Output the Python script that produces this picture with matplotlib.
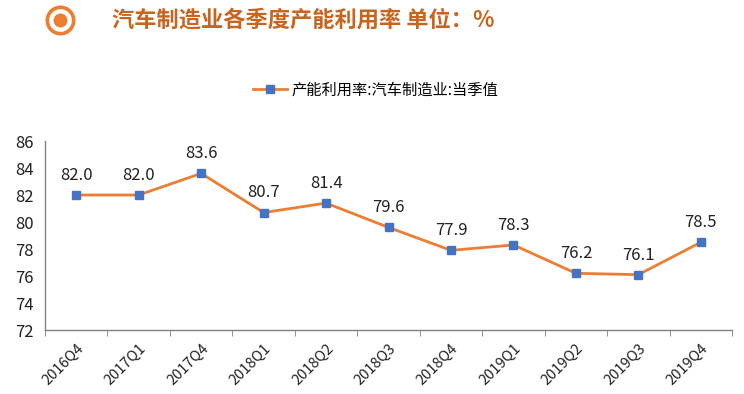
import matplotlib
matplotlib.use("Agg")
import matplotlib.pyplot as plt
from matplotlib.lines import Line2D

plt.rcParams['font.family'] = ['Noto Sans CJK SC', 'DejaVu Sans']

quarters = ['2016Q4', '2017Q1', '2017Q4', '2018Q1', '2018Q2', '2018Q3',
            '2018Q4', '2019Q1', '2019Q2', '2019Q3', '2019Q4']
values = [82.0, 82.0, 83.6, 80.7, 81.4, 79.6, 77.9, 78.3, 76.2, 76.1, 78.5]
series_name = '产能利用率:汽车制造业:当季值'
title = '汽车制造业各季度产能利用率 单位：%'

fig = plt.figure(figsize=(7.44, 3.94), dpi=100)
ax = fig.add_axes([0.0605, 0.1624, 0.9235, 0.4797])

x = list(range(len(quarters)))
ax.plot(x, values, color='#ED7D31', lw=2, marker='s', ms=6,
        mfc='#4472C4', mec='#4472C4', label=series_name, zorder=3)

for xi, v in zip(x, values):
    ax.annotate(f'{v:.1f}', (xi, v), xytext=(0, 8), textcoords='offset points',
                ha='center', va='bottom', fontsize=12, color='#222222')

ax.set_xlim(-0.5, len(quarters) - 0.5)
ax.set_ylim(72, 86)
ax.set_yticks(range(72, 87, 2))
ax.set_xticks(x)
ax.set_xticklabels(quarters, rotation=45, ha='right', rotation_mode='anchor',
                   fontsize=10.5, color='#222222')
ax.set_xticks([i - 0.5 for i in range(len(quarters) + 1)], minor=True)
ax.tick_params(axis='x', which='major', length=0, pad=8)
ax.tick_params(axis='x', which='minor', length=4, direction='out', color='#808080')
ax.tick_params(axis='y', length=0, labelsize=12, labelcolor='#222222', pad=8)
for s in ['top', 'right']:
    ax.spines[s].set_visible(False)
for s in ['left', 'bottom']:
    ax.spines[s].set_color('#808080')
    ax.spines[s].set_linewidth(1)

fig.legend(loc='center', bbox_to_anchor=(0.505, 0.772), frameon=False,
           fontsize=11, handlelength=2.2, handletextpad=0.3)

# title icon
fig.add_artist(Line2D([0.081], [0.949], transform=fig.transFigure, marker='o',
                      ms=19, mfc='white', mec='#ED7D31', mew=2.6, ls='none'))
fig.add_artist(Line2D([0.081], [0.949], transform=fig.transFigure, marker='o',
                      ms=9, mfc='#ED7D31', mec='#ED7D31', ls='none'))
fig.text(0.15, 0.949, title, fontsize=16, fontweight='bold', color='#C8641E',
         va='center', ha='left')

fig.savefig('out.png', dpi=100)
